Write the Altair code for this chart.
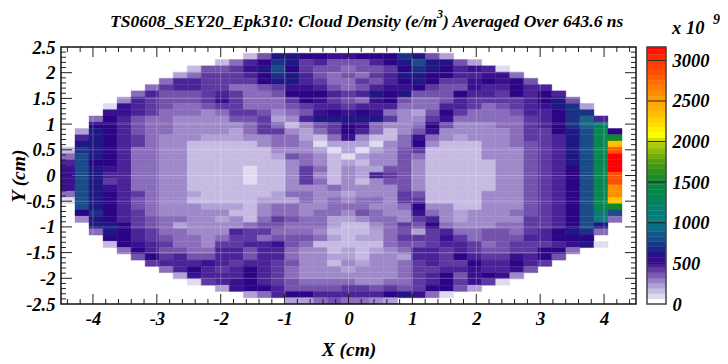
import altair as alt
import pandas as pd

TITLE_START = ["TS0608_SEY20_Epk310: Cloud Density (e/m"]
TITLE_SUP = ["3"]
TITLE_END = [") Averaged Over 643.6 ns"]
FONT = "Liberation Serif"

# Cell codes, top row first, left column first; "." = empty cell
ROWS = [
"",
".............bfkkjjiijjjlkfc",
"...........behjlkghfffhjkmkkfc",
".........bffgikmjgffeffgjlkjhiha",
"........ceggghjlkhfefeghkkjjhhiie",
".......ehhggggjkkhgeegfhjkjggijijf",
"......eghhggeefgiihfefhiijgffihhjhh",
".....ehfffghgeefjjjhghkjkfffjhhgjhjh",
"....dhgfffgigeeegjigfeijfeefhgggghjkf",
"...aihgfeefggeeefghhghhheeehhgefghiklc",
"...iihgeeedeggfdefijijiedcfjgeeefhhjll",
"..ejhfeeddddffgcdhkkkkkgddgieeeeeghjlnh",
"..jjhfeedddddegebdfgjieddejfdddeeghjlnp",
".ckjhfeeddddceggdcegjhebdfidddddeggjkmqj",
".hkjhgedddcccddeecbeidbbeiedcdddegghkmqr",
".kkjhgeddbbbbbdeedacccadejdbbbddefghkmqv",
"blkjheeddbbbbbbdddcacacdfgbbbbdddfghkmqx",
"emkjheeddbbbbbbcfedbacddfebbbbdddfghkmqy",
"hmjjheeddbbbbbbbdedbcbddfdbbbbbddfghkmqy",
"imkiheeddbbbbabbdgebdccffdbbbbbddfghjmqy",
"imkhheeddbbbbabbdgdbdchgfdbbbbbddfghjmqx",
"imkgheeddbbbbabbdgebdbdffdbbbbbddfghjmqx",
"imkiheeddbbbbbbbdddeddddfdbbbbbddfghjmqw",
"emkjhgeddcbbbbbceeddcdddgfbbbbdddfghjmqw",
"amkjhfeddbbbbbcccededeedggbbbbdddfghjmqv",
".mkjhfedddcccbdeeddeeeddejddbbdddfghjmqr",
".jljhgedddddbbdeedeedfeddiedcdddefghjmpm",
".dkjhgfeeddcdbegfeeccdeedghdcddddgghjmoe",
"..kkjgfecddddeffeeecbbdegfjedddeegghjmk",
"..ekjhgeedddhggeeedbbbcefcgheeffeghjkle",
"...jjhgfeedeggefffecbccegggigefffhhjjj",
"...bjihgeedgghhifebbbbbeffghhgefggghika",
"....ejhffeehhfhheddbcbcdehhghgffggjje",
".....fjghffhhfhheddccbddchhgjhggihjf",
"......ghhhihghhgfddbdcddeghggjhhjhg",
".......ehjhghjhgedddcdddegghhihhif",
"........cihhhjhgedddddddeghjfijid",
".........aghijhgfeeeeddeeghjgiga",
"...........cijjhffffggfgfgjjfc",
".............cehjjhhhhhjkiea",
"................ccefeedc",
]

# Value for each cell code, units of 1e9 e/m^3
CODES = ["a","b","c","d","e","f","g","h","i","j","k","l","m",
         "n","o","p","q","r","s","t","u","v","w","x","y"]
CODE_VALUES = [60,130,190,240,290,340,390,440,490,540,600,680,780,
               880,1000,1150,1300,1500,1700,1950,2050,2300,2550,2800,3100]

PALETTE_VALUES = [0] + CODE_VALUES
PALETTE_COLORS = ["#ffffff","#e0dcf0","#c6bae2","#b0a1d6","#9f89c9","#896dbb","#7353ac",
                  "#5e39a2","#4a2398","#391090","#2c0587","#1f1884","#1c3088","#1b4c8a",
                  "#186488","#0f7a80","#0a7e6a","#0a8650","#0c8a2c","#4a9a10","#b8d010",
                  "#ffff00","#ffc000","#ff9000","#ff5000","#ff0000"]

COLORBAR_LEVELS = [0,64,128,192,256,320,384,448,512,576,640,704,768,832,896,960,1024,1088,
                   1152,1216,1280,1344,1408,1472,1536,1600,1664,1728,1792,1856,1920,1984,
                   2048,2112,2176,2240,2304,2368,2432,2496,2560,2624,2688,2752,2816,2880,
                   2944,3008,3072,3136]
COLORBAR_TICKS = [500,1000,1500,2000,2500,3000]

X_MAJOR = [-4,-3,-2,-1,0,1,2,3,4]
X_MINOR = [-4.4,-4.2,-3.8,-3.6,-3.4,-3.2,-2.8,-2.6,-2.4,-2.2,-1.8,-1.6,-1.4,-1.2,-0.8,-0.6,-0.4,-0.2,
           0.2,0.4,0.6,0.8,1.2,1.4,1.6,1.8,2.2,2.4,2.6,2.8,3.2,3.4,3.6,3.8,4.2,4.4]
Y_MAJOR = [-2,-1.5,-1,-0.5,0,0.5,1,1.5,2]
Y_MINOR = [-2.4,-2.3,-2.2,-2.1,-1.9,-1.8,-1.7,-1.6,-1.4,-1.3,-1.2,-1.1,-0.9,-0.8,-0.7,-0.6,-0.4,-0.3,-0.2,-0.1,
           0.1,0.2,0.3,0.4,0.6,0.7,0.8,0.9,1.1,1.2,1.3,1.4,1.6,1.7,1.8,1.9,2.1,2.2,2.3,2.4]
X_LABELS = X_MAJOR
Y_LABELS = [-2.5] + Y_MAJOR + [2.5]

NX = NY = 41
XMIN, XMAX, YMIN, YMAX = -4.5, 4.5, -2.5, 2.5
W, H = 575, 257
BAR_W = 19
code_to_value = dict(zip(CODES, CODE_VALUES))

cells = []
for j, row in enumerate(ROWS):
    for i, c in enumerate(row):
        if c == ".":
            continue
        cells.append({
            "x0": XMIN + (XMAX - XMIN) * i / NX,
            "x1": XMIN + (XMAX - XMIN) * (i + 1) / NX,
            "y1": YMAX - (YMAX - YMIN) * j / NY,
            "y0": YMAX - (YMAX - YMIN) * (j + 1) / NY,
            "v": code_to_value[c],
        })
cells = pd.DataFrame(cells)

xs = alt.Scale(domain=[XMIN, XMAX], nice=False, zero=False)
ys = alt.Scale(domain=[YMIN, YMAX], nice=False, zero=False)
cs = alt.Scale(domain=PALETTE_VALUES, range=PALETTE_COLORS, type="linear", clamp=True)

x_axis = alt.Axis(values=X_LABELS, title="X (cm)", ticks=False, domain=False, grid=False,
                  labelFont=FONT, labelFontSize=18.5, labelFontWeight="bold", labelFontStyle="italic",
                  labelColor="black", labelPadding=5, titleFont=FONT, titleFontSize=19.5,
                  titleFontWeight="bold", titleFontStyle="italic", titleColor="black",
                  titlePadding=13, labelExpr="''+datum.value", labelFlush=False)
y_axis = alt.Axis(values=Y_LABELS, title="Y (cm)", ticks=False, domain=False, grid=False,
                  labelFont=FONT, labelFontSize=18.5, labelFontWeight="bold", labelFontStyle="italic",
                  labelColor="black", labelPadding=6, titleFont=FONT, titleFontSize=19.5,
                  titleFontWeight="bold", titleFontStyle="italic", titleColor="black",
                  titlePadding=-3, labelExpr="''+datum.value", labelFlush=False, labelOverlap=False)

heat = alt.Chart(cells).mark_rect(strokeWidth=0.4).encode(
    x=alt.X("x0:Q", scale=xs, axis=x_axis), x2="x1:Q",
    y=alt.Y("y0:Q", scale=ys, axis=y_axis), y2="y1:Q",
    fill=alt.Fill("v:Q", scale=cs, legend=None),
    stroke=alt.Stroke("v:Q", scale=cs, legend=None),
)

def vgrid(vals):
    return alt.Chart(pd.DataFrame({"v": vals})).mark_rule(color="white", opacity=0.25, strokeWidth=1).encode(
        x=alt.X("v:Q", scale=xs, axis=x_axis))
def hgrid(vals):
    return alt.Chart(pd.DataFrame({"v": vals})).mark_rule(color="white", opacity=0.25, strokeWidth=1).encode(
        y=alt.Y("v:Q", scale=ys, axis=y_axis))
def xticks(vals, a, b):
    return alt.Chart(pd.DataFrame({"v": vals})).mark_rule(color="#222", strokeWidth=1).encode(
        x=alt.X("v:Q", scale=xs, axis=x_axis), y=alt.value(a), y2=alt.value(b))
def yticks(vals, a, b):
    return alt.Chart(pd.DataFrame({"v": vals})).mark_rule(color="#222", strokeWidth=1).encode(
        y=alt.Y("v:Q", scale=ys, axis=y_axis), x=alt.value(a), x2=alt.value(b))

frame = alt.Chart(pd.DataFrame({"a": [0]})).mark_rect(fillOpacity=0, stroke="#111", strokeWidth=1.5).encode(
    x=alt.value(0), x2=alt.value(W), y=alt.value(0), y2=alt.value(H))

def label(text, size, x, y):
    return alt.Chart(pd.DataFrame({"t": text})).mark_text(
        font=FONT, fontSize=size, fontWeight="bold", fontStyle="italic", align="left", color="black",
    ).encode(text="t:N", x=alt.value(x), y=alt.value(y))

left = alt.layer(
    heat,
    vgrid(X_MAJOR), hgrid(Y_MAJOR),
    xticks(X_MAJOR, H, H - 10), xticks(X_MINOR, H, H - 5),
    xticks(X_MAJOR, 0, 10), xticks(X_MINOR, 0, 5),
    yticks(Y_MAJOR, 0, 11), yticks(Y_MINOR, 0, 5),
    yticks(Y_MAJOR, W, W - 11), yticks(Y_MINOR, W, W - 5),
    frame,
    label(TITLE_START, 17.5, 49, -25),
    label(TITLE_SUP, 12, 376, -33),
    label(TITLE_END, 17.5, 382, -25),
).properties(width=W, height=H)

bar_y = alt.Scale(domain=[0, 3165], nice=False, zero=False)
bands = pd.DataFrame({"v": COLORBAR_LEVELS, "v2": COLORBAR_LEVELS[1:] + [3165]})
bar_axis = alt.Axis(values=[0] + COLORBAR_TICKS, orient="right", title=None, ticks=False, domain=False, grid=False,
                    labelFont=FONT, labelFontSize=18.5, labelFontWeight="bold", labelFontStyle="italic",
                    labelColor="black", labelPadding=6, format="d", labelOverlap=False, labelFlush=False)
bar = alt.Chart(bands).mark_rect(strokeWidth=0.4).encode(
    x=alt.value(0), x2=alt.value(BAR_W),
    y=alt.Y("v:Q", scale=bar_y, axis=bar_axis), y2="v2:Q",
    fill=alt.Fill("v:Q", scale=cs, legend=None),
    stroke=alt.Stroke("v:Q", scale=cs, legend=None),
)
bar_ticks = alt.Chart(pd.DataFrame({"v": COLORBAR_TICKS})).mark_rule(color="#222", strokeWidth=1).encode(
    y=alt.Y("v:Q", scale=bar_y, axis=bar_axis), x=alt.value(0), x2=alt.value(BAR_W))
bar_frame = alt.Chart(pd.DataFrame({"a": [0]})).mark_rect(fillOpacity=0, stroke="#444", strokeWidth=1.5).encode(
    x=alt.value(0), x2=alt.value(BAR_W), y=alt.value(0), y2=alt.value(H))
right = alt.layer(bar, bar_ticks, bar_frame,
                  label(["x 10"], 18.5, 25, -19),
                  label(["9"], 14, 66, -27)).properties(width=BAR_W, height=H)

chart = alt.hconcat(left, right, spacing=9).resolve_scale(
    fill="independent", stroke="independent", x="independent", y="independent"
).properties(padding={"left": 0, "top": 0, "right": 0, "bottom": 0}).configure_view(stroke=None)

chart.save("out.html", embed_options={"renderer": "svg", "actions": False})
